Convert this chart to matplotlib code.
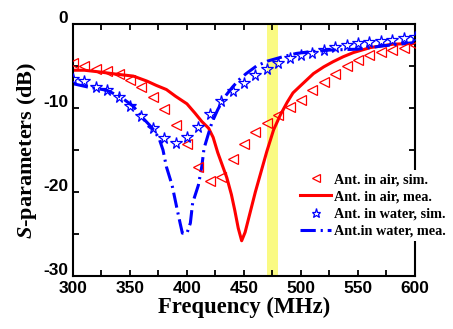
import matplotlib
matplotlib.use("Agg")
import matplotlib.pyplot as plt
from matplotlib.ticker import MultipleLocator
from matplotlib.transforms import ScaledTranslation

# simulated curves, every 10 MHz
f_sim = list(range(300, 601, 10))
air_sim = [-4.6, -5.0, -5.3, -5.6, -6.0, -6.7, -7.5, -8.7, -10.1, -12.0,
           -14.3, -17.0, -18.7, -18.2, -16.1, -14.3, -12.9, -11.8, -10.8, -9.9,
           -9.0, -7.9, -6.9, -5.9, -5.0, -4.3, -3.7, -3.3, -3.1, -2.8, -2.5]
water_sim = [-6.5, -6.8, -7.5, -7.9, -8.7, -9.8, -11.0, -12.4, -13.6, -14.2,
             -13.5, -12.2, -10.7, -9.2, -8.0, -7.0, -6.1, -5.3, -4.7, -4.1,
             -3.7, -3.4, -3.1, -2.7, -2.5, -2.3, -2.1, -2.0, -1.9, -1.7, -1.6]

# measured curves
f_air_mea = [300, 310, 323, 340, 353, 365, 373, 382, 390, 400, 407, 413, 419, 423,
             427, 431, 435, 439, 442, 445, 448, 451, 454, 457, 460, 465, 470, 476,
             482, 488, 493, 500, 511, 520, 528, 537, 546, 561, 581, 600]
air_mea = [-5.5, -5.5, -5.7, -6.0, -6.2, -6.8, -7.3, -7.8, -8.6, -9.5, -10.6, -11.6,
           -12.4, -13.5, -15.3, -16.8, -18.3, -20.3, -22.2, -24.3, -25.8, -24.8,
           -23.2, -21.6, -20.0, -17.6, -15.2, -12.6, -10.8, -9.3, -8.2, -7.3, -5.9,
           -5.1, -4.5, -3.9, -3.4, -2.8, -2.4, -2.3]
f_water_mea = [300, 313, 322, 330, 342, 353, 360, 367, 372, 376, 379, 382, 387, 391,
               394, 396, 400, 403, 405, 410, 413, 415, 419, 422, 427, 433, 440, 446,
               452, 461, 471, 484, 496, 508, 525, 549, 561, 572, 586, 600]
water_mea = [-7.1, -7.5, -7.7, -7.9, -8.7, -9.8, -11.0, -12.0, -12.8, -13.8, -15.0,
             -17.0, -19.2, -21.8, -23.7, -24.9, -24.9, -23.7, -21.3, -19.2, -17.0,
             -14.8, -13.0, -11.7, -10.2, -8.7, -7.5, -6.6, -5.9, -5.0, -4.4, -3.9,
             -3.5, -3.3, -3.1, -3.0, -2.8, -2.6, -2.4, -2.2]

band = (470, 480)

plt.rcParams['mathtext.fontset'] = 'custom'
plt.rcParams['mathtext.it'] = 'Liberation Serif:italic:bold'
plt.rcParams['mathtext.rm'] = 'Liberation Serif:bold'
plt.rcParams['axes.unicode_minus'] = False

fig = plt.figure(figsize=(4.53, 3.29), dpi=100)
ax = fig.add_axes([0.161, 0.161, 0.755, 0.766])

ax.axvspan(band[0], band[1], color='#fafa82', zorder=0, lw=0)

ax.plot(f_sim, air_sim, ls='none', marker='<', ms=7.5, mfc='none', mec='red',
        mew=0.9, label='Ant. in air, sim.', zorder=3)
ax.plot(f_air_mea, air_mea, color='red', lw=2.2, label='Ant. in air, mea.', zorder=2)
ax.plot(f_sim, water_sim, ls='none', marker='*', ms=8.5, mfc='none', mec='blue',
        mew=0.9, label='Ant. in water, sim.', zorder=3)
ax.plot(f_water_mea, water_mea, color='blue', lw=2.2, dashes=(5, 1.6, 0.7, 1.6),
        label='Ant.in water, mea.', zorder=2)

ax.set_xlim(300, 600)
ax.set_ylim(-30, 0)
ax.xaxis.set_major_locator(MultipleLocator(50))
ax.xaxis.set_minor_locator(MultipleLocator(25))
ax.yaxis.set_major_locator(MultipleLocator(10))
ax.yaxis.set_minor_locator(MultipleLocator(5))
ax.tick_params(which='both', direction='in', length=4.5, width=1.3,
               top=True, right=True, labelsize=12.5)
for lab in ax.get_xticklabels() + ax.get_yticklabels():
    lab.set_fontfamily('Liberation Sans')
    lab.set_fontweight('bold')
for lab in ax.get_yticklabels():
    lab.set_transform(lab.get_transform() + ScaledTranslation(0, 7 / 100, fig.dpi_scale_trans))
for s in ax.spines.values():
    s.set_linewidth(1.5)

ax.set_xlabel('Frequency (MHz)', fontfamily='Liberation Serif', fontweight='bold',
              fontsize=16.3, labelpad=1)
ax.set_ylabel('$S$-parameters (dB)', fontfamily='Liberation Serif', fontweight='bold',
              fontsize=16, labelpad=3)

leg = ax.legend(loc='upper left', bbox_to_anchor=(0.655, 0.42),
                prop={'family': 'Liberation Serif', 'weight': 'bold', 'size': 10.3},
                frameon=True, facecolor='white', edgecolor='none', framealpha=1,
                handlelength=2.2, handletextpad=0.2, labelspacing=0.3,
                borderpad=0.2, borderaxespad=0, markerscale=0.8)

fig.savefig('out.png', dpi=100)
